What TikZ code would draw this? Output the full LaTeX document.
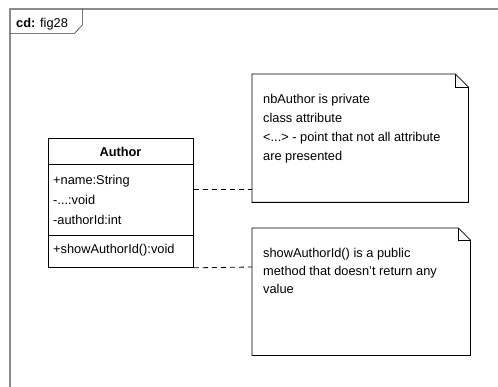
\documentclass[tikz,border=0pt]{standalone}
\usepackage{fontspec}
\setmainfont{Liberation Sans}
\usetikzlibrary{calc}
\tikzset{
  frameline/.style={draw=black!45, line width=1.3pt},
  tabline/.style={draw=black!80, line width=0.6pt},
  umlbox/.style={draw=black, line width=0.8pt, inner sep=0pt, anchor=north west},
  notebox/.style={inner sep=0pt, anchor=north west},
  noteline/.style={draw=black, line width=0.8pt},
  conn/.style={draw=black, line width=0.8pt, dash pattern=on 5pt off 4pt},
  txt/.style={inner sep=0pt, anchor=base west, font=\fontsize{12.8}{19}\selectfont},
  multitxt/.style={inner sep=0pt, anchor=north west, align=left, font=\fontsize{12.8}{19}\selectfont},
}
\begin{document}
\begin{tikzpicture}[x=1pt,y=-1pt]
\useasboundingbox[fill=white] (0,0) rectangle (498,387);
% frame
\draw[frameline] (10,388) -- (10,9) -- (499,9);
\node[inner sep=0pt, anchor=north west, minimum width=72pt, minimum height=24pt] (tab) at (10,9) {};
\draw[tabline] (tab.north east) -- ($(tab.north east)+(0,16)$) -- ($(tab.south east)+(-8,0)$) -- (tab.south west);
\node[txt] (tabtxt) at (16,28) {\textbf{cd:} fig28};
% class
\node[umlbox, minimum width=145pt, minimum height=129pt] (author) at (48,138) {};
\draw[line width=0.8pt] ($(author.north west)+(0,26)$) -- ($(author.north east)+(0,26)$);
\draw[line width=0.8pt] ($(author.north west)+(0,97)$) -- ($(author.north east)+(0,97)$);
\node[txt, anchor=base, font=\fontsize{12.8}{19}\selectfont\bfseries] (cname) at (120.5,157) {Author};
\node[txt] (a1) at (53,185) {+name:String};
\node[txt] (a2) at (53,205) {-...:void};
\node[txt] (a3) at (53,225) {-authorId:int};
\node[txt] (m1) at (53,254) {+showAuthorId():void};
% note 1
\node[notebox, minimum width=216pt, minimum height=128pt] (note1) at (252,74) {};
\draw[noteline] (note1.north west) -- ($(note1.north east)+(-13,0)$) -- ($(note1.north east)+(0,13)$) -- (note1.south east) -- (note1.south west) -- cycle;
\draw[noteline] ($(note1.north east)+(-13,0)$) -- ($(note1.north east)+(-13,13)$) -- ($(note1.north east)+(0,13)$);
\node[multitxt] (n1txt) at (263,93.7) {nbAuthor is private\\class attribute\\<...> - point that not all attribute\\are presented};
% note 2
\node[notebox, minimum width=218pt, minimum height=127pt] (note2) at (252,228) {};
\draw[noteline] (note2.north west) -- ($(note2.north east)+(-12,0)$) -- ($(note2.north east)+(0,12)$) -- (note2.south east) -- (note2.south west) -- cycle;
\draw[noteline] ($(note2.north east)+(-12,0)$) -- ($(note2.north east)+(-12,12)$) -- ($(note2.north east)+(0,12)$);
\node[multitxt, font=\fontsize{12.8}{18.3}\selectfont] (n2txt) at (263,247.7) {showAuthorId() is a public\\method that doesn't return any\\value};
% connectors
\draw[conn] ($(author.north east)+(0,51)$) -- ($(note1.north west)+(0,115)$);
\draw[conn] (author.south east) -- ($(note2.north west)+(0,39)$);
\end{tikzpicture}
\end{document}
